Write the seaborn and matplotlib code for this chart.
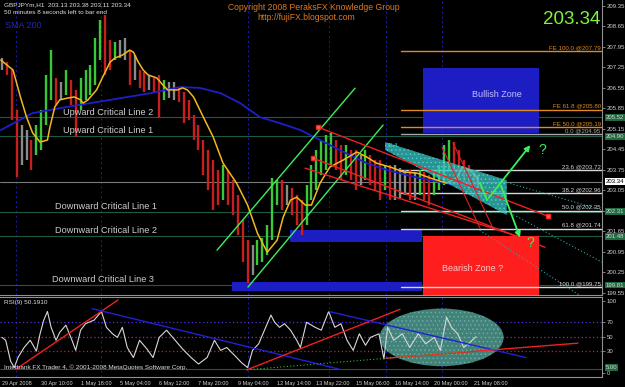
import matplotlib
matplotlib.use("Agg")
import matplotlib.pyplot as plt
import matplotlib.transforms as mtransforms
from matplotlib.patches import Rectangle, Polygon, Ellipse
import pandas as pd
import seaborn as sns

# ---------------- data ----------------
bar_hours = list(range(0, 389, 4))
bar_high = [207.56, 207.42, 207.15, 205.78, 205.27, 205.10, 204.76, 205.27, 205.78, 206.98,
            207.83, 206.88, 206.74, 207.15, 206.81, 206.47, 206.88, 207.15, 207.32, 208.24,
            208.86, 209.03, 208.17, 208.11, 208.17, 208.24, 207.83, 207.66, 207.15, 207.08,
            206.98, 206.88, 206.98, 206.81, 206.74, 206.74, 206.54, 206.40, 206.13, 205.61,
            205.27, 204.76, 204.42, 204.08, 203.73, 203.91, 203.73, 203.39, 202.88, 202.03,
            201.34, 201.17, 201.34, 201.41, 201.86, 203.46, 203.39, 203.39, 203.22, 203.12,
            202.88, 202.71, 203.22, 203.91, 204.42, 204.76, 204.93, 205.00, 204.76, 204.59,
            204.59, 204.42, 204.42, 204.25, 204.42, 204.25, 204.08, 204.08, 203.91, 203.91,
            203.91, 203.80, 203.73, 203.73, 203.67, 203.73, 203.67, 203.56, 203.67, 203.91,
            204.59, 204.76, 204.69, 204.42, 204.08, 203.91, 203.73, 203.56]
bar_low = [207.15, 206.98, 205.44, 203.50, 203.91, 204.08, 203.73, 204.25, 204.42, 205.27,
           206.13, 205.95, 206.13, 206.30, 205.95, 204.86, 205.78, 206.13, 206.30, 206.64,
           207.49, 206.98, 207.15, 207.49, 207.56, 207.49, 206.64, 206.81, 206.54, 206.40,
           206.47, 206.40, 205.51, 206.13, 206.19, 206.13, 206.06, 205.34, 205.44, 204.76,
           204.42, 203.56, 203.05, 202.37, 202.54, 202.71, 202.54, 202.20, 201.51, 200.59,
           199.88, 200.15, 200.49, 200.59, 200.83, 201.34, 202.54, 202.37, 202.54, 202.20,
           201.86, 201.51, 201.86, 202.71, 203.05, 203.56, 203.73, 203.91, 203.73, 203.39,
           203.56, 203.39, 203.05, 203.22, 203.39, 203.22, 203.05, 202.71, 203.05, 202.71,
           202.71, 202.78, 202.88, 202.71, 202.71, 202.88, 202.71, 202.54, 202.88, 203.05,
           203.22, 203.73, 203.56, 203.39, 203.22, 203.05, 203.05, 203.12]

ma_hours = [-1, 9, 15, 20, 25, 31, 37, 39, 43, 47, 53, 59, 64, 66, 70, 77, 82, 88, 92, 98,
            104, 107, 111, 115, 119, 126, 131, 135, 143, 147, 151, 156, 164, 172, 180, 191, 200, 208, 216, 224,
            229, 235, 240, 247, 252, 259, 267, 278, 289, 297, 305, 316, 327, 338, 349, 362, 371, 375, 381, 387]
ma_values = [207.49, 207.15, 206.23, 205.54, 205.00, 204.69, 204.76, 205.20, 205.89, 206.13,
             206.19, 206.23, 206.13, 206.02, 206.13, 206.47, 206.91, 207.42, 207.56, 207.66,
             207.83, 207.76, 207.42, 207.15, 206.98, 206.88, 206.64, 206.47, 206.47, 206.54,
             206.47, 206.23, 205.54, 204.86, 203.97, 203.29, 202.54, 201.58, 200.93, 201.34,
             202.13, 202.71, 202.81, 202.54, 202.54, 203.29, 203.84, 204.08, 204.35, 204.18,
             203.97, 203.84, 203.67, 203.63, 203.46, 203.29, 203.50, 203.84, 203.73, 203.46]

sma_hours = [-1, 25, 53, 88, 121, 145, 161, 178, 194, 210, 226, 243, 259, 275, 297, 314, 340, 365, 387]
sma_values = [205.10, 205.68, 205.89, 206.13, 206.36, 206.57, 206.54, 206.36, 206.02, 205.54,
              205.34, 205.10, 204.76, 204.42, 203.97, 203.73, 203.46, 203.26, 203.19]

rsi_hours = [0, 3, 7, 10, 13, 18, 23, 28, 31, 34, 37, 40, 44, 47, 52, 57, 60, 64, 68, 75,
             81, 85, 90, 94, 98, 102, 107, 112, 118, 123, 128, 134, 141, 147, 154, 160, 167, 173, 178, 183,
             190, 195, 200, 204, 209, 213, 216, 219, 222, 226, 230, 235, 240, 243, 248, 255, 260, 266, 271, 276,
             281, 286, 291, 296, 300, 307, 311, 314, 319, 326, 332, 339, 345, 352, 357, 362, 366, 371, 376, 381, 386]
rsi_values = [49, 45, 16, 7, 21, 35, 45, 30, 54, 73, 85, 63, 45, 56, 66, 45, 31, 59, 68, 73,
              85, 63, 54, 49, 63, 35, 21, 45, 33, 21, 49, 59, 45, 33, 21, 12, 21, 45, 31, 35,
              23, 14, 7, 31, 40, 56, 68, 80, 70, 63, 68, 59, 45, 35, 70, 63, 59, 85, 63, 68,
              45, 31, 54, 38, 49, 54, 19, 63, 45, 54, 35, 54, 40, 49, 31, 77, 63, 54, 35, 42, 50]

crit_levels = [205.53, 204.89, 202.31, 201.48, 199.81]
crit_names = ["Upward Critical Line 2", "Upward Critical Line 1", "Downward Critical Line 1",
              "Downward Critical Line 2", "Downward Critical Line 3"]
crit_label_x = [50, 50, 43, 43, 41]
crit_tags = ["205.52", "204.90", "202.31", "201.48", "199.81"]

fib_levels = [207.79, 205.80, 205.19, 204.95, 203.72, 202.96, 202.35, 201.74, 199.75]
fib_labels = ["FE 100.0 @207.79", "FE 61.8 @205.80", "FE 50.0 @205.19", "0.0 @204.95",
              "23.6 @203.72", "38.2 @202.96", "50.0 @202.35", "61.8 @201.74", "100.0 @199.75"]

price_ticks = [209.35, 208.65, 207.95, 207.25, 206.55, 205.85, 205.15, 204.45, 203.75,
               203.05, 202.35, 201.65, 200.95, 200.25, 199.55]
date_ticks = [0, 32, 64, 96, 128, 160, 192, 224, 256, 288, 320, 352, 384]
date_labels = ["29 Apr 2008", "30 Apr 10:00", "1 May 18:00", "5 May 04:00", "6 May 12:00",
               "7 May 20:00", "9 May 04:00", "12 May 14:00", "13 May 22:00", "15 May 06:00",
               "16 May 14:00", "20 May 00:00", "21 May 08:00"]
separators = [11, 81, 200, 266, 313, 358]
last_price = 203.34

# ---------------- style ----------------
sns.set_style("dark", {"axes.facecolor": "black", "figure.facecolor": "black"})
plt.rcParams['font.family'] = ['Liberation Sans', 'DejaVu Sans']
plt.rcParams['hatch.linewidth'] = 0.6

XL = (-1.63, 488.6)
fig = plt.figure(figsize=(6.25, 3.87), dpi=100, facecolor='black')
ax = fig.add_axes([0, 1 - 295 / 387, 602 / 625, 295 / 387])
ax2 = fig.add_axes([0, 10 / 387, 602 / 625, 80 / 387])
for a in (ax, ax2):
    a.set_facecolor('black')
    a.grid(False)
    a.set_xlim(*XL)
    for s in ('left', 'top'):
        a.spines[s].set_visible(False)
    for s in ('right', 'bottom'):
        a.spines[s].set_color('#909090')
        a.spines[s].set_linewidth(0.8)
    for x in separators:
        a.axvline(x, color='#1c1ca8', lw=0.7, ls=(0, (2, 3)), zorder=0.5)
ax2.spines['top'].set_visible(True)
ax2.spines['top'].set_color('#909090')
ax.set_ylim(199.47, 209.54)
ax2.set_ylim(-6, 105.1)

# ---------------- price panel ----------------
for lvl in crit_levels:
    ax.axhline(lvl, color='#1f5a45', lw=0.8, zorder=1)
ax.axhline(last_price, color='#7a7a7a', lw=0.8, zorder=1)

# zones
ax.add_patch(Rectangle((342.8, 205.0), 94.5, 2.22, fc='#1d1dc4', ec='none', zorder=1.2))
ax.add_patch(Rectangle((342.8, 199.47), 94.5, 2.01, fc='#ff1e1e', ec='none', zorder=1.2))
ax.add_patch(Rectangle((234.5, 201.28), 107.5, 0.41, fc='#1d1dc4', ec='none', zorder=1.2))
ax.add_patch(Rectangle((187.3, 199.60), 154.7, 0.31, fc='#1d1dc4', ec='none', zorder=1.2))

# fibonacci lines
for i, (lvl, lab) in enumerate(zip(fib_levels, fib_labels)):
    col = '#e08a20' if i < 3 else ('#a8a8a8' if i == 3 else '#d8d8d8')
    ax.plot([325, XL[1]], [lvl, lvl], color=col, lw=1.0, zorder=1.5)
    ax.text(487.5, lvl + 0.03, lab, color=col, fontsize=4.4, ha='right', va='bottom', zorder=6)

# bars
mids = [(h + l) / 2 for h, l in zip(bar_high, bar_low)]
cols = []
for i, m in enumerate(mids):
    if i == 0 or abs(m - mids[i - 1]) < 0.08:
        cols.append('#8a8a8a')
    elif m > mids[i - 1]:
        cols.append('#38c838')
    else:
        cols.append('#c81e1e')
ax.vlines(bar_hours, bar_low, bar_high, colors=cols, lw=1.7, zorder=2)

# moving averages
sns.lineplot(x=sma_hours, y=sma_values, ax=ax, color='#1f1fc8', lw=1.3, zorder=3, estimator=None)
sns.lineplot(x=ma_hours, y=ma_values, ax=ax, color='#f2b81e', lw=1.1, zorder=3.2, estimator=None)

# trend channels
ax.plot([175.1, 287.5], [201.00, 206.53], color='#3cf05a', lw=1.0, zorder=4)
ax.plot([200.3, 310.3], [199.74, 205.27], color='#3cf05a', lw=1.0, zorder=4)
for (x0, x1), (y0, y1) in [((257.3, 444.6), (205.20, 202.16)),
                           ((253.3, 442.2), (204.14, 201.10)),
                           ((246.7, 421.8), (203.80, 201.45))]:
    ax.plot([x0, x1], [y0, y1], color='#f02020', lw=1.0, zorder=4)
ax.plot([257.3, 253.3, 444.6], [205.20, 204.14, 202.16], ls='none', marker='s', ms=2.5,
        mfc='#ff6060', mec='#ff2020', zorder=4.5)
ax.plot([358.3, 389.3], [204.52, 201.75], color='#e02020', lw=0.8, zorder=4)
ax.plot([367.3, 399.8], [204.66, 201.75], color='#e02020', lw=0.8, zorder=4)

# cyan wedge and fan
ax.add_patch(Polygon([(312, 204.69), (411, 203.39), (411, 202.20), (312, 204.42)],
                     closed=True, fc='#38c4c4', ec='#5ad8d8', lw=0, alpha=0.75, zorder=3.5, hatch='....'))
ax.plot([320, 488.6], [204.42, 202.37], color='#2aa8a8', lw=0.8, ls=(0, (1, 2)), zorder=3.6)
ax.plot([356.7, 488.6], [203.56, 200.59], color='#2aa8a8', lw=0.8, ls=(0, (1, 2)), zorder=3.6)
ax.plot([389, 470], [201.68, 199.47], color='#2aa8a8', lw=0.8, ls=(0, (1, 2)), zorder=3.6)
ax.text(318, 204.59, "76.4", color='#40d0d0', fontsize=4.2, ha='center', va='center', zorder=6)

# green arrows
ax.plot([389.3, 395], [203.29, 202.71], color='#3cf05a', lw=1.3, zorder=5)
ax.annotate("", xy=(431.6, 204.66), xytext=(395, 202.71),
            arrowprops=dict(arrowstyle='-|>', color='#3cf05a', lw=1.3, mutation_scale=8), zorder=5)
ax.annotate("", xy=(422.6, 201.34), xytext=(405.5, 203.29),
            arrowprops=dict(arrowstyle='-|>', color='#3cf05a', lw=1.3, mutation_scale=8), zorder=5)
ax.text(439.7, 204.42, "?", color='#3cf05a', fontsize=10, ha='center', va='center', zorder=6)
ax.text(430, 201.24, "?", color='#3cf05a', fontsize=10, ha='center', va='center', zorder=6)

# zone texts
ax.text(403, 206.30, "Bullish Zone", color='#c0c0ff', fontsize=6.5, ha='center', va='center', zorder=6)
ax.text(383.6, 200.39, "Bearish Zone ?", color='#ffc8c8', fontsize=6.5, ha='center', va='center', zorder=6)

# critical line texts
for lvl, name, xs in zip(crit_levels, crit_names, crit_label_x):
    ax.text(xs, lvl + 0.03, name, color='#cfcfcf', fontsize=6.6, ha='left', va='bottom', zorder=6)

# right axis
ax.yaxis.tick_right()
ax.set_yticks(price_ticks)
ax.set_yticklabels([f"{t:.2f}" for t in price_ticks])
ax.tick_params(axis='y', colors='#909090', labelcolor='#d0d0d0', labelsize=4.3, length=2,
               width=0.6, pad=1.2, direction='out')
ax.set_xticks([])
trans = mtransforms.blended_transform_factory(ax.transAxes, ax.transData)
for lvl, tag in zip(crit_levels, crit_tags):
    ax.text(1.006, lvl, tag, transform=trans, ha='left', va='center', fontsize=4.3, color='#d8d8d8',
            bbox=dict(boxstyle='square,pad=0.15', fc='#1f6b3f', ec='none'),
            clip_on=False, zorder=7)
ax.text(1.006, last_price, f"{last_price:.2f}", transform=trans, ha='left', va='center', fontsize=4.3,
        color='black', bbox=dict(boxstyle='square,pad=0.15', fc='white', ec='none'),
        clip_on=False, zorder=7)

# overlay texts
ax.text(4 / 602, 1 - 2 / 295, "GBPJPYm,H1  203.13 203.38 203.11 203.34", transform=ax.transAxes,
        color='#e0e0e0', fontsize=4.6, ha='left', va='top', zorder=8)
ax.text(4 / 602, 1 - 10 / 295, "50 minutes 8 seconds left to bar end", transform=ax.transAxes,
        color='#e0e0e0', fontsize=4.6, ha='left', va='top', zorder=8)
ax.text(5 / 602, 1 - 25 / 295, "SMA 200", transform=ax.transAxes, color='#2626b0', fontsize=6.5,
        ha='left', va='center', zorder=8)
ax.text(314 / 602, 1 - 7 / 295, "Copyright 2008 PeraksFX Knowledge Group", transform=ax.transAxes,
        color='#e07a1e', fontsize=6.2, ha='center', va='center', zorder=8)
ax.text(306 / 602, 1 - 18 / 295, "http://fujiFX.blogspot.com", transform=ax.transAxes,
        color='#e07a1e', fontsize=6.2, ha='center', va='center', zorder=8)
ax.text(600 / 602, 1 - 20 / 295, f"{last_price:.2f}", transform=ax.transAxes,
        color='#7cf53c', fontsize=13.5, ha='right', va='center', zorder=8)

# ---------------- RSI panel ----------------
ax2.axhline(70, color='#5a2bd8', lw=0.9, ls=(0, (1, 2)), zorder=1)
ax2.axhline(50, color='#a02a9a', lw=0.9, ls=(0, (1, 2)), zorder=1)
ax2.axhline(30, color='#d02020', lw=0.9, ls=(0, (1, 2)), zorder=1)
ax2.axhline(5, color='#1f5a45', lw=0.8, zorder=1)
ax2.add_patch(Ellipse((358, 49), 101, 80, fc='#4e9a8e', ec='#6cb2a8', lw=0, alpha=0.85,
                      hatch='....', zorder=1.5))
sns.lineplot(x=rsi_hours, y=rsi_values, ax=ax2, color='#d8d8d8', lw=0.8, zorder=3, estimator=None)
ax2.plot([11.4, 94.5], [5, 101], color='#f02020', lw=1.0, zorder=4)
ax2.plot([73.3, 274.4], [89, 5], color='#2020d8', lw=1.0, zorder=4)
ax2.plot([199.5, 324.1], [4, 88], color='#f02020', lw=1.0, zorder=4)
ax2.plot([266.3, 426.7], [85, 21], color='#2020d8', lw=1.0, zorder=4)
ax2.plot([312.7, 469], [20, 41], color='#f02020', lw=1.0, zorder=4)
ax2.plot([199.5, 312.7, 381], [4, 20, 30], color='#30c030', lw=0.8, ls=(0, (1, 2)), zorder=4)
ax2.text(4 / 602, 1 - 3 / 80, "RSI(9) 50.1910", transform=ax2.transAxes, color='#e0e0e0',
         fontsize=4.6, ha='left', va='top', zorder=8)
ax2.text(4 / 602, 0.12, "Interbank FX Trader 4, \u00a9 2001-2008 MetaQuotes Software Corp.",
         transform=ax2.transAxes, color='#e0e0e0', fontsize=4.6, ha='left', va='center', zorder=8)
ax2.yaxis.tick_right()
ax2.set_yticks([0, 30, 50, 70, 100])
ax2.set_yticklabels(["0", "30", "50", "70", "100"])
ax2.tick_params(axis='y', colors='#909090', labelcolor='#d0d0d0', labelsize=4.3, length=2,
                width=0.6, pad=1.2)
trans2 = mtransforms.blended_transform_factory(ax2.transAxes, ax2.transData)
ax2.text(1.006, 7, "5.00", transform=trans2, ha='left', va='center', fontsize=4.3, color='#d8d8d8',
         bbox=dict(boxstyle='square,pad=0.15', fc='#1f6b3f', ec='none'),
         clip_on=False, zorder=7)
ax2.set_xticks(date_ticks)
ax2.set_xticklabels(date_labels, ha='left')
ax2.tick_params(axis='x', colors='#909090', labelcolor='#d0d0d0', labelsize=4.0, length=2,
                width=0.6, pad=1.0)
ax2.set_xlabel("")
ax2.set_ylabel("")
ax.set_xlabel("")
ax.set_ylabel("")

fig.savefig("out.png", dpi=100, facecolor='black')
